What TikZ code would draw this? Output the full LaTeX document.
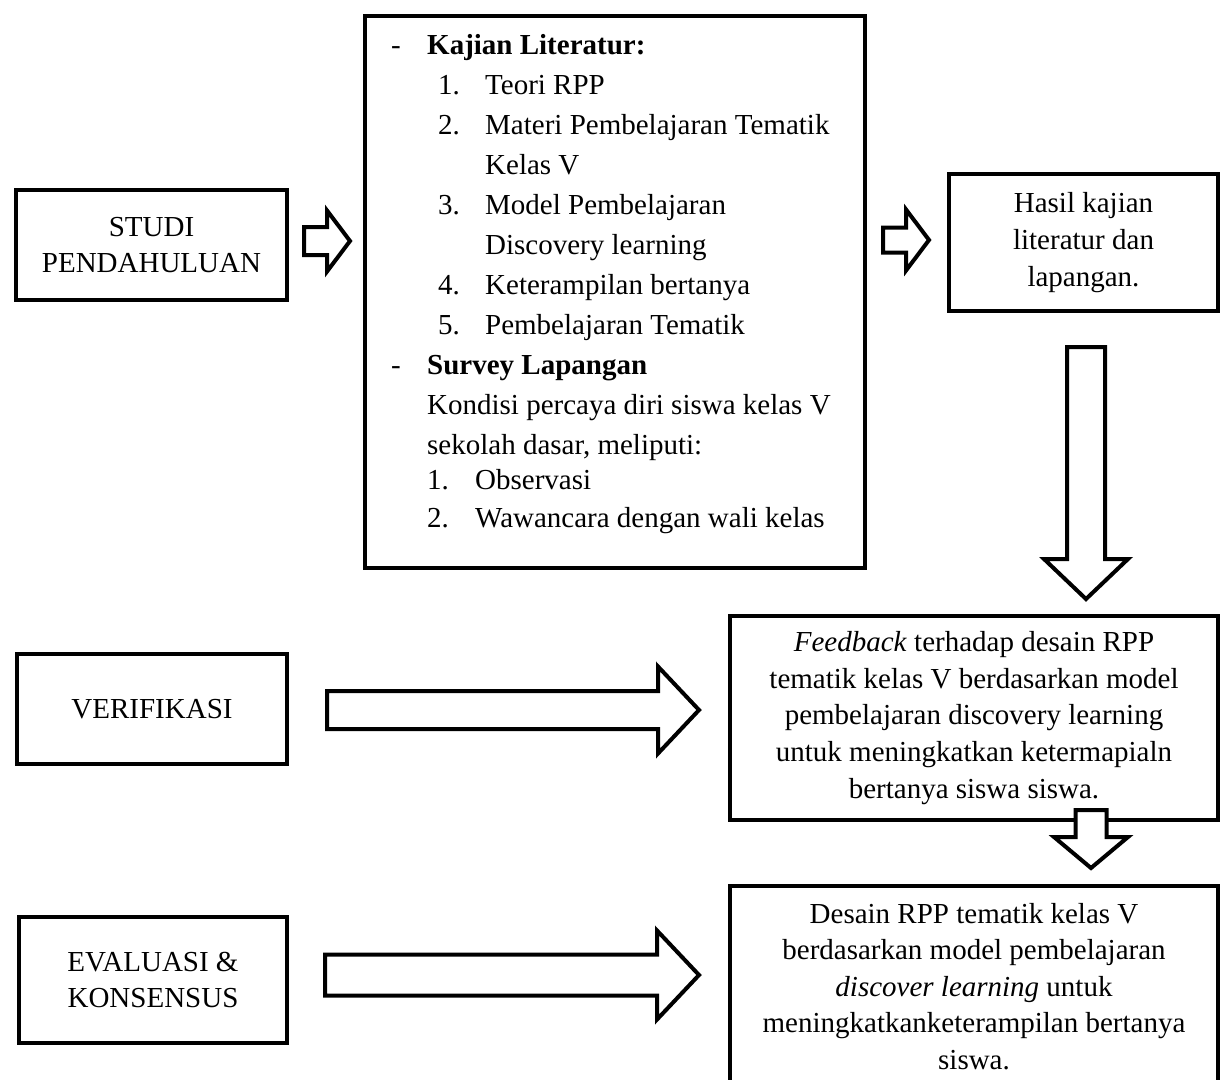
\documentclass[tikz,border=0pt]{standalone}
\usepackage{fontspec}
\setmainfont{Liberation Serif}
\usetikzlibrary{calc}

\tikzset{
  box/.style={draw, line width=4pt, inner sep=0pt, align=center,
    font=\fontsize{29pt}{36.6pt}\selectfont},
  fatarrow/.style n args={3}{draw, fill=white, line width=4pt, to path={
      ($(\tikztotarget)!#3!(\tikztostart)$) coordinate (fa-base)
      ($(\tikztostart)!#1!90:(\tikztotarget)$)
      -- ($(fa-base)!#1!90:(\tikztotarget)$)
      -- ($(fa-base)!#2!90:(\tikztotarget)$)
      -- (\tikztotarget)
      -- ($(fa-base)!#2!-90:(\tikztotarget)$)
      -- ($(fa-base)!#1!-90:(\tikztotarget)$)
      -- ($(\tikztostart)!#1!-90:(\tikztotarget)$)
      -- cycle}},
}

\begin{document}
\begin{tikzpicture}[x=1pt, y=-1pt]
    \useasboundingbox (0,0) rectangle (1222,1079);

    \node[box, minimum width=271pt, minimum height=110pt] (studi) at (151.5, 245) {STUDI\\PENDAHULUAN};
    \node[box, minimum width=500pt, minimum height=552pt] (kajian) at (615, 292) {};
    \node[box, minimum width=269pt, minimum height=137pt] (hasil) at (1083.5, 242.5) {Hasil kajian\\literatur dan\\lapangan.};
    \node[box, minimum width=270pt, minimum height=110pt] (verif) at (152, 709) {VERIFIKASI};
    \node[box, minimum width=488pt, minimum height=204pt] (feedback) at (974, 718)
        {\textit{Feedback} terhadap desain RPP\\tematik kelas V berdasarkan model\\pembelajaran discovery learning\\untuk meningkatkan ketermapialn\\bertanya siswa siswa.};
    \node[box, minimum width=268pt, minimum height=126pt] (eval) at (153, 980) {EVALUASI \&\\KONSENSUS};
    \node[box, minimum width=488pt, minimum height=201pt] (desain) at (974, 986.5)
        {Desain RPP tematik kelas V\\berdasarkan model pembelajaran\\\textit{discover learning} untuk\\meningkatkanketerampilan bertanya\\siswa.};

    \node[anchor=base west, inner sep=0pt, align=left,
          font=\fontsize{29pt}{40pt}\selectfont] (kajianlist) at (391, 527) {%
        \makebox[36pt][l]{-}\textbf{Kajian Literatur:}\\
        \hspace*{47pt}\makebox[47pt][l]{1.}Teori RPP\\
        \hspace*{47pt}\makebox[47pt][l]{2.}Materi Pembelajaran Tematik\\
        \hspace*{94pt}Kelas V\\
        \hspace*{47pt}\makebox[47pt][l]{3.}Model Pembelajaran\\
        \hspace*{94pt}Discovery learning\\
        \hspace*{47pt}\makebox[47pt][l]{4.}Keterampilan bertanya\\
        \hspace*{47pt}\makebox[47pt][l]{5.}Pembelajaran Tematik\\
        \makebox[36pt][l]{-}\textbf{Survey Lapangan}\\
        \hspace*{36pt}Kondisi percaya diri siswa kelas V\\
        \hspace*{36pt}sekolah dasar, meliputi:\\[-5pt]
        \hspace*{36pt}\makebox[48pt][l]{1.}Observasi\\[-2pt]
        \hspace*{36pt}\makebox[48pt][l]{2.}Wawancara dengan wali kelas};

    \coordinate (a1s) at ([shift={(15,-4)}]studi.east);
    \coordinate (a1e) at ([shift={(-13,-51)}]kajian.west);
    \coordinate (a2s) at ([shift={(16,-52)}]kajian.east);
    \coordinate (a2e) at ([shift={(-18,-2.5)}]hasil.west);
    \coordinate (d1s) at ([shift={(2.5,34)}]hasil.south);
    \coordinate (d1e) at ([shift={(112,-15)}]feedback.north);
    \coordinate (d2s) at ([shift={(117,-12)}]feedback.south);
    \coordinate (d2e) at ([shift={(117,-16)}]desain.north);
    \coordinate (vs) at ([shift={(38,1)}]verif.east);
    \coordinate (ve) at ([shift={(-29,-8)}]feedback.west);
    \coordinate (es) at ([shift={(36,-5)}]eval.east);
    \coordinate (ee) at ([shift={(-29,-11.5)}]desain.west);

    \draw (a1s) edge[fatarrow={14pt}{30.5pt}{23pt}] (a1e)
          (a2s) edge[fatarrow={12.5pt}{30.5pt}{23pt}] (a2e)
          (d1s) edge[fatarrow={19pt}{42pt}{40pt}] (d1e)
          (d2s) edge[fatarrow={15.5pt}{37pt}{31pt}] (d2e)
          (vs) edge[fatarrow={19pt}{43.5pt}{41pt}] (ve)
          (es) edge[fatarrow={20.5pt}{44.5pt}{42pt}] (ee);
\end{tikzpicture}
\end{document}
